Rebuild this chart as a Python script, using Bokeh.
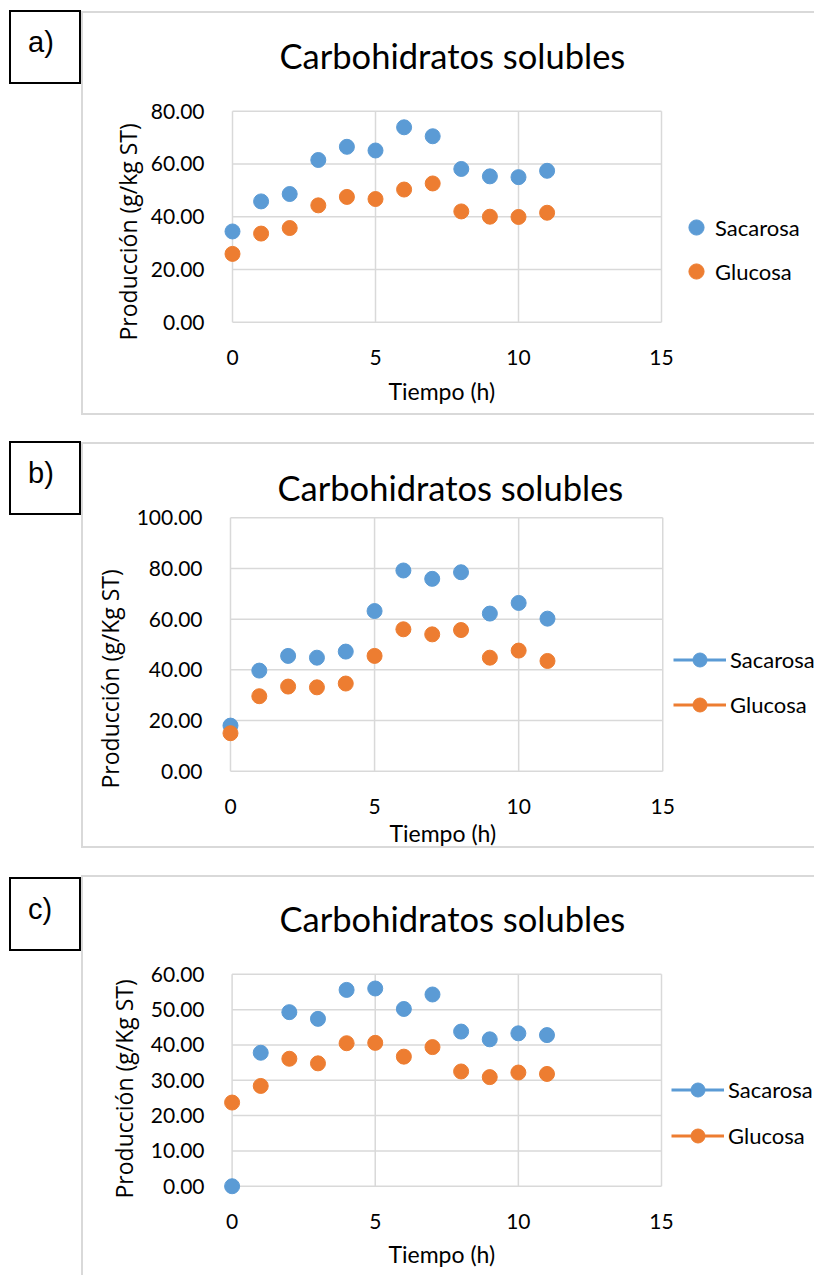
from bokeh.plotting import figure
from bokeh.models import Range1d, FixedTicker, Title, Legend, LegendItem, Div, NumeralTickFormatter
from bokeh.layouts import row, column
from bokeh.embed import file_html
from bokeh.resources import INLINE

# ---------------- data ----------------
tiempo = [0, 1, 2, 3, 4, 5, 6, 7, 8, 9, 10, 11]
x_ticks = [0, 5, 10, 15]

a_sacarosa = [34.4, 45.8, 48.6, 61.5, 66.5, 65.1, 73.9, 70.5, 58.1, 55.3, 55.0, 57.4]
a_glucosa = [25.9, 33.6, 35.7, 44.3, 47.5, 46.7, 50.3, 52.6, 42.0, 40.0, 39.9, 41.5]
a_yticks = [0, 20, 40, 60, 80]

b_sacarosa = [18.0, 39.7, 45.5, 44.8, 47.2, 63.2, 79.2, 75.9, 78.5, 62.2, 66.4, 60.2]
b_glucosa = [15.0, 29.6, 33.4, 33.1, 34.6, 45.5, 56.0, 54.0, 55.7, 44.8, 47.6, 43.5]
b_yticks = [0, 20, 40, 60, 80, 100]

c_sacarosa = [0.0, 37.8, 49.3, 47.4, 55.6, 56.0, 50.2, 54.3, 43.8, 41.6, 43.3, 42.8]
c_glucosa = [23.7, 28.4, 36.1, 34.8, 40.5, 40.6, 36.7, 39.4, 32.5, 30.9, 32.2, 31.8]
c_yticks = [0, 10, 20, 30, 40, 50, 60]

series_names = ["Sacarosa", "Glucosa"]
series_colors = ["#5B9BD5", "#ED7D31"]
chart_title = "Carbohidratos solubles"
x_title = "Tiempo (h)"
y_titles = ["Producción (g/kg ST)", "Producción (g/Kg ST)", "Producción (g/Kg ST)"]
panel_labels = ["a)", "b)", "c)"]

PAGE_W = 816
FIG_LEFT = 83          # page x where the figure canvas starts
FIG_W = PAGE_W - FIG_LEFT
GRID = "#d9d9d9"
FONT = "Lato"


def make_label_div(text, height, box_top):
    html = (
        f'<div style="position:relative;width:81px;height:{height}px;">'
        f'<div style="position:absolute;left:9px;top:{box_top}px;width:72px;height:74px;'
        f'border:2px solid #000;box-sizing:border-box;background:#fff;">'
        f'<span style="position:absolute;left:17px;top:16px;font-family:\'Liberation Sans\',Arial,sans-serif;'
        f'font-size:29px;line-height:29px;color:#000;">{text}</span></div></div>'
    )
    return Div(text=html, width=81, height=height, margin=(0, 0, 0, 0))


def make_panel(sac, glu, yticks, ytitle, legend_lines, g):
    ymax = yticks[-1]
    ux = (g["px15"] - g["px0"]) / 15.0
    uy = (g["py0"] - g["pytop"]) / ymax
    frame_left = int(round(g["px0"] - 10))
    x_start = (frame_left - g["px0"]) / ux
    x_end = (PAGE_W - g["px0"]) / ux
    y_start = -(g["frame_bottom"] - g["py0"]) / uy
    y_end = (g["py0"] - g["frame_top"]) / uy
    ct, ch = g["canvas_top"], g["canvas_h"]

    p = figure(width=FIG_W, height=ch,
               x_range=Range1d(x_start, x_end), y_range=Range1d(y_start, y_end),
               output_backend="svg", toolbar_location=None,
               min_border_left=int(frame_left - FIG_LEFT), min_border_right=0,
               min_border_top=int(g["frame_top"] - ct),
               min_border_bottom=int(ct + ch - g["frame_bottom"]),
               outline_line_color=None, background_fill_color="white",
               border_fill_color="white")
    p.margin = g["margin"]
    p.styles = g["styles"]

    # title
    p.title.text = chart_title
    p.title.text_font = FONT
    p.title.text_font_size = "34.5px"
    p.title.text_font_style = "normal"
    p.title.text_color = "#000000"
    p.title.align = "left"
    p.title.offset = g["title_offset"]
    p.title.standoff = g["title_standoff"]

    # grid lines drawn from the tick arrays
    p.xgrid.visible = False
    p.ygrid.visible = False
    p.segment(x0=x_ticks, y0=[0] * len(x_ticks), x1=x_ticks, y1=[ymax] * len(x_ticks),
              line_color=GRID, line_width=1.5)
    p.segment(x0=[0] * len(yticks), y0=yticks, x1=[15] * len(yticks), y1=yticks,
              line_color=GRID, line_width=1.5)

    # axes
    for ax in (p.xaxis[0], p.yaxis[0]):
        ax.axis_line_color = None
        ax.major_tick_line_color = None
        ax.minor_tick_line_color = None
        ax.major_label_text_font = FONT
        ax.major_label_text_font_size = "21px"
        ax.major_label_text_color = "#000000"
    p.xaxis[0].ticker = FixedTicker(ticks=x_ticks)
    p.xaxis[0].major_label_standoff = g["xlab_standoff"]
    p.yaxis[0].ticker = FixedTicker(ticks=yticks)
    p.yaxis[0].formatter = NumeralTickFormatter(format="0.00")
    p.yaxis[0].major_label_standoff = 12

    # axis titles
    p.add_layout(Title(text=ytitle, align="left",
                       offset=int(round(g["frame_bottom"] - g["ytitle_bottom"])),
                       standoff=g["ytitle_standoff"], text_font="Open Sans", text_font_size="23px",
                       text_font_style="normal", text_color="#000000", vertical_align="bottom"), "left")
    p.add_layout(Title(text=x_title, align="left", offset=int(round(g["xtitle_left"] - frame_left)),
                       standoff=g["xtitle_standoff"], text_font=FONT, text_font_size="23px",
                       text_font_style="normal", text_color="#000000", vertical_align="top"), "below")

    # data
    items = []
    for vals, name, col in zip([sac, glu], series_names, series_colors):
        rends = []
        if legend_lines:
            ln = p.line(tiempo, vals, line_color=col, line_width=3, visible=False)
            rends.append(ln)
        sc = p.scatter(tiempo, vals, size=15, fill_color=col, line_color=col, marker="circle")
        rends.append(sc)
        items.append(LegendItem(label=name, renderers=rends))

    gw, gh = g["glyph_w"], g["glyph_h"]
    leg = Legend(items=items,
                 location=(int(round(g["leg_left"] - frame_left)),
                           int(round(g["frame_bottom"] - g["leg_bottom"]))),
                 glyph_width=gw, glyph_height=gh, spacing=g["leg_spacing"],
                 label_standoff=g["leg_standoff"], label_text_font=FONT, label_text_font_size="22px",
                 label_text_color="#000000", border_line_color=None, background_fill_alpha=0,
                 padding=0, margin=0)
    p.add_layout(leg, "center")
    return p


geoms = [
    dict(canvas_top=13, canvas_h=404, px0=232, px15=661, pytop=110.7, py0=321.7,
         frame_top=77, frame_bottom=331, title_offset=57, title_standoff=4,
         xlab_standoff=12, ytitle_bottom=340, ytitle_standoff=8, xtitle_left=388, xtitle_standoff=18,
         glyph_w=38, glyph_h=38, leg_left=677, leg_bottom=289.7, leg_spacing=6, leg_standoff=0,
         margin=(11, 0, 0, 0),
         styles={"border-top": "2px solid #d9d9d9", "border-left": "2px solid #d9d9d9",
                 "border-bottom": "2px solid #d9d9d9"}),
    dict(canvas_top=444, canvas_h=406, px0=229, px15=662, pytop=517.3, py0=771.7,
         frame_top=509, frame_bottom=781, title_offset=57, title_standoff=4,
         xlab_standoff=12, ytitle_bottom=789, ytitle_standoff=16, xtitle_left=388, xtitle_standoff=4,
         glyph_w=53, glyph_h=35, leg_left=672, leg_bottom=722.5, leg_spacing=10, leg_standoff=4,
         margin=(23, 0, 0, 0),
         styles={"border-top": "2px solid #d9d9d9", "border-left": "2px solid #d9d9d9",
                 "border-bottom": "2px solid #d9d9d9"}),
    dict(canvas_top=877, canvas_h=400, px0=231.6, px15=661, pytop=974, py0=1186.7,
         frame_top=940, frame_bottom=1196, title_offset=57, title_standoff=4,
         xlab_standoff=12, ytitle_bottom=1199, ytitle_standoff=16, xtitle_left=388, xtitle_standoff=16,
         glyph_w=53, glyph_h=35, leg_left=671, leg_bottom=1153.5, leg_spacing=11, leg_standoff=4,
         margin=(23, 0, 0, 0),
         styles={"border-top": "2px solid #d9d9d9", "border-left": "2px solid #d9d9d9"}),
]

datasets = [(a_sacarosa, a_glucosa, a_yticks), (b_sacarosa, b_glucosa, b_yticks),
            (c_sacarosa, c_glucosa, c_yticks)]
row_heights = [419, 433, 425]
box_tops = [10, 22, 25]

rows = []
for i in range(3):
    sac, glu, yt = datasets[i]
    fig = make_panel(sac, glu, yt, y_titles[i], legend_lines=(i > 0), g=geoms[i])
    div = make_label_div(panel_labels[i], row_heights[i], box_tops[i])
    rows.append(row(div, fig, spacing=0))

layout = column(*rows, spacing=0)
open("out.html", "w").write(file_html(layout, INLINE))
